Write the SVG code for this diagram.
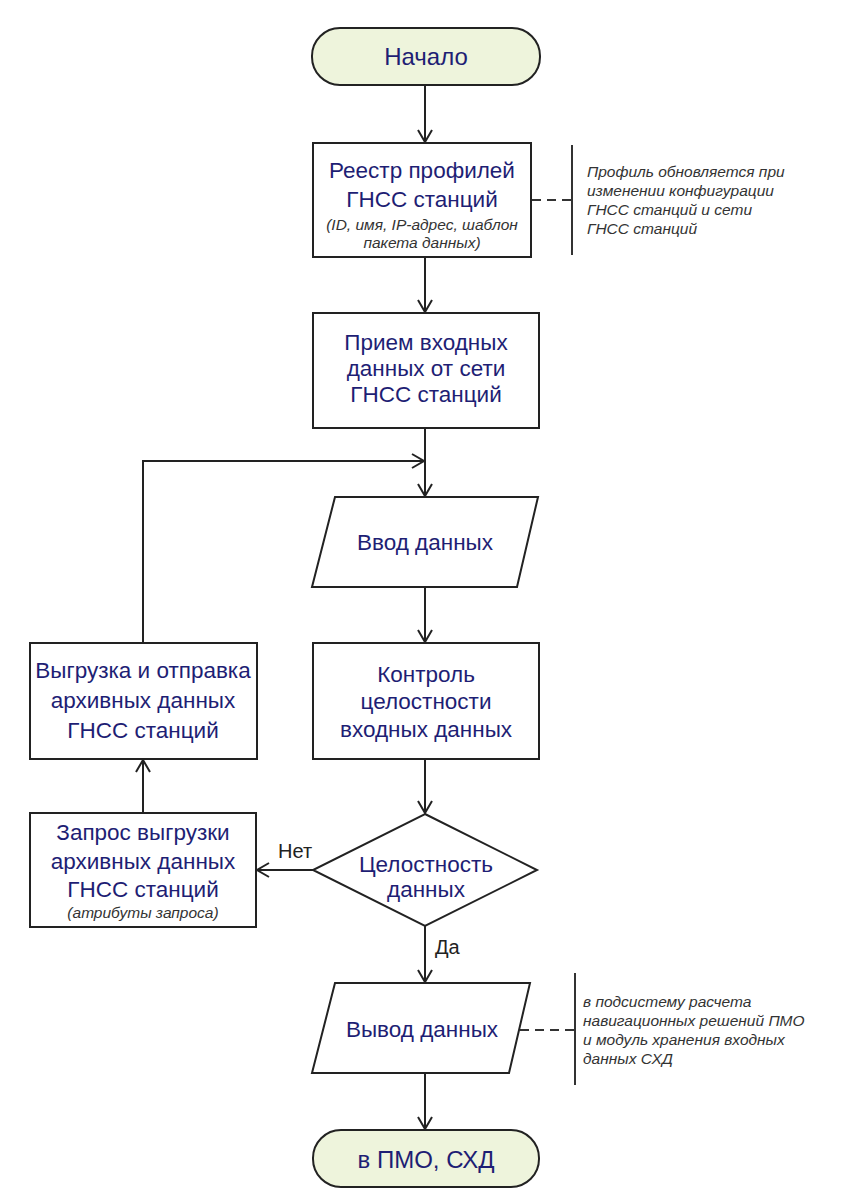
<svg xmlns="http://www.w3.org/2000/svg" width="843" height="1200" viewBox="0 0 843 1200">
<style>
.box{fill:#ffffff;stroke:#222222;stroke-width:2}
.term{fill:#eef4dc;stroke:#222222;stroke-width:2}
.t{font-family:"Liberation Sans",Arial,sans-serif;font-size:22.5px;fill:#1e1e74;text-anchor:middle}
.tt{font-family:"Liberation Sans",Arial,sans-serif;font-size:24px;fill:#1e1e74;text-anchor:middle}
.ti{font-family:"Liberation Sans",Arial,sans-serif;font-size:15.5px;font-style:italic;fill:#333333;text-anchor:middle}
.note{font-family:"Liberation Sans",Arial,sans-serif;font-size:15.5px;font-style:italic;fill:#333333}
.lbl{font-family:"Liberation Sans",Arial,sans-serif;font-size:20px;fill:#222222}
.c{fill:none;stroke:#222222;stroke-width:2}
.d{fill:none;stroke:#333333;stroke-width:2;stroke-dasharray:9,6}
.bar{fill:none;stroke:#333333;stroke-width:2}
</style>
<defs>
<marker id="arr" markerUnits="userSpaceOnUse" markerWidth="16" markerHeight="18" refX="13" refY="8" orient="auto">
<path d="M1,1 L13,8 L1,15" fill="none" stroke="#222222" stroke-width="2"/>
</marker>
</defs>
<rect width="843" height="1200" fill="#ffffff"/>
<g id="connectors">
<line class="c" x1="425" y1="86" x2="425" y2="142" marker-end="url(#arr)"/>
<line class="c" x1="425" y1="258" x2="425" y2="312" marker-end="url(#arr)"/>
<line class="c" x1="425" y1="429" x2="425" y2="496" marker-end="url(#arr)"/>
<polyline class="c" points="143,643 143,461 424,461" marker-end="url(#arr)"/>
<line class="c" x1="425" y1="588" x2="425" y2="642" marker-end="url(#arr)"/>
<line class="c" x1="425" y1="760" x2="425" y2="813" marker-end="url(#arr)"/>
<line class="c" x1="313" y1="870" x2="257" y2="870" marker-end="url(#arr)"/>
<line class="c" x1="143" y1="813" x2="143" y2="760" marker-end="url(#arr)"/>
<line class="c" x1="425" y1="926" x2="425" y2="982" marker-end="url(#arr)"/>
<line class="c" x1="425" y1="1074" x2="425" y2="1129" marker-end="url(#arr)"/>
<line class="d" x1="532" y1="200" x2="572" y2="200"/>
<line class="bar" x1="572" y1="145" x2="572" y2="255"/>
<line class="d" x1="520" y1="1030" x2="575" y2="1030"/>
<line class="bar" x1="575" y1="973" x2="575" y2="1085"/>
<text class="lbl" x="278" y="858">Нет</text>
<text class="lbl" x="435" y="954">Да</text>
</g>
<g id="start">
<rect class="term" x="312" y="28" width="228" height="57" rx="28"/>
<text class="tt" x="426" y="65">Начало</text>
</g>
<g id="registry">
<rect class="box" x="313" y="143" width="218" height="114"/>
<text class="t" x="422" y="178">Реестр профилей</text>
<text class="t" x="422" y="207">ГНСС станций</text>
<text class="ti" x="422" y="230">(ID, имя, IP-адрес, шаблон</text>
<text class="ti" x="422" y="248">пакета данных)</text>
</g>
<g id="note1">
<text class="note" x="587" y="177">Профиль обновляется при</text>
<text class="note" x="587" y="196">изменении конфигурации</text>
<text class="note" x="587" y="215">ГНСС станций и сети</text>
<text class="note" x="587" y="234">ГНСС станций</text>
</g>
<g id="receive">
<rect class="box" x="313" y="313" width="226" height="115"/>
<text class="t" x="426" y="350">Прием входных</text>
<text class="t" x="426" y="376">данных от сети</text>
<text class="t" x="426" y="402">ГНСС станций</text>
</g>
<g id="input">
<polygon class="box" points="335,497 538,497 517,587 312,587"/>
<text class="t" x="425" y="550">Ввод данных</text>
</g>
<g id="control">
<rect class="box" x="313" y="643" width="226" height="116"/>
<text class="t" x="426" y="682">Контроль</text>
<text class="t" x="426" y="709">целостности</text>
<text class="t" x="426" y="737">входных данных</text>
</g>
<g id="upload">
<rect class="box" x="30" y="643" width="227" height="116"/>
<text class="t" x="143" y="678">Выгрузка и отправка</text>
<text class="t" x="143" y="708">архивных данных</text>
<text class="t" x="143" y="738">ГНСС станций</text>
</g>
<g id="decision">
<polygon class="box" points="425,814 537,870 425,926 313,870"/>
<text class="t" x="426" y="872">Целостность</text>
<text class="t" x="426" y="897">данных</text>
</g>
<g id="request">
<rect class="box" x="30" y="813" width="226" height="114"/>
<text class="t" x="143" y="840">Запрос выгрузки</text>
<text class="t" x="143" y="869">архивных данных</text>
<text class="t" x="143" y="897">ГНСС станций</text>
<text class="ti" x="143" y="918">(атрибуты запроса)</text>
</g>
<g id="output">
<polygon class="box" points="335,983 530,983 509,1073 312,1073"/>
<text class="t" x="422" y="1037">Вывод данных</text>
</g>
<g id="note2">
<text class="note" x="583" y="1007">в подсистему расчета</text>
<text class="note" x="583" y="1026">навигационных решений ПМО</text>
<text class="note" x="583" y="1045">и модуль хранения входных</text>
<text class="note" x="583" y="1064">данных СХД</text>
</g>
<g id="end">
<rect class="term" x="313" y="1130" width="226" height="57" rx="28"/>
<text class="tt" x="426" y="1168">в ПМО, СХД</text>
</g>
</svg>
